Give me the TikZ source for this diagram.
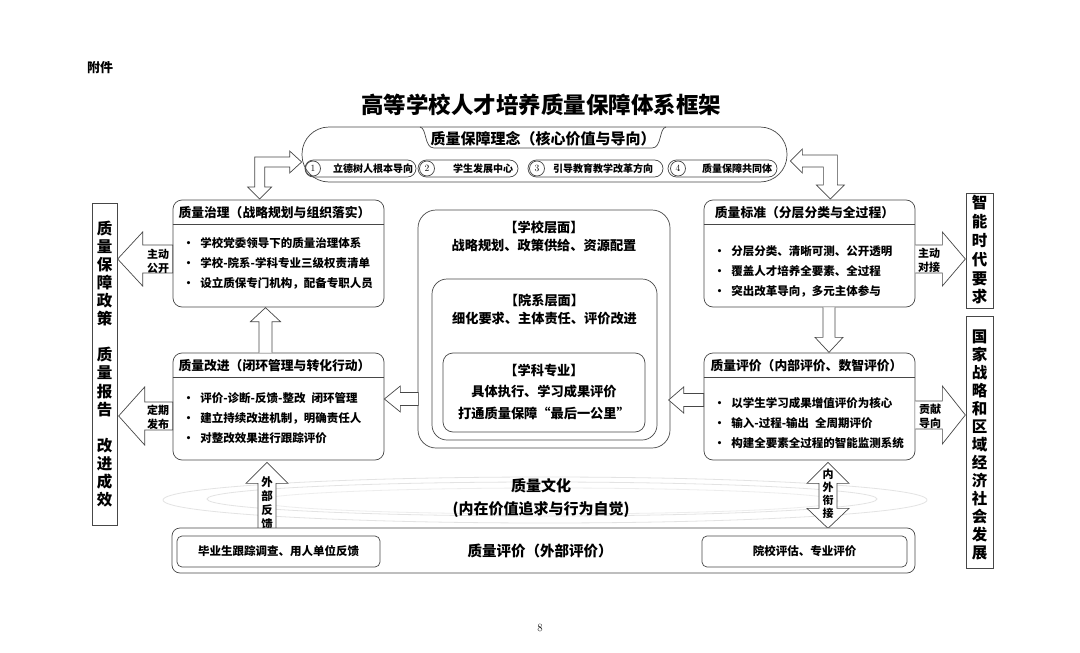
\documentclass[tikz,border=0pt]{standalone}
\usepackage{fontspec}
\newfontfamily\cjk{Noto Sans CJK SC}
\usetikzlibrary{calc,positioning}

\newcommand\fs[2]{\fontsize{#1}{#2}\selectfont}

\tikzset{
  outl/.style={draw=black!72, line width=0.7pt},
  box/.style={outl, rounded corners=9pt, fill=white, minimum width=211, minimum height=107, inner sep=0pt},
  head/.style={font=\cjk\bfseries\fs{12.8}{15}, inner sep=0pt},
  items/.style={font=\cjk\bfseries\fs{11.5}{20}, align=left, anchor=north west, inner sep=0pt},
  hollow/.style={outl, fill=white, line join=miter},
  tag/.style={font=\cjk\bfseries\fs{11}{14}, align=center, inner sep=0pt},
  column/.style={outl, minimum width=26, inner sep=0pt},
  coltext/.style={font=\cjk\bfseries\fs{15.5}{18.1}, align=center, inner sep=0pt},
  level/.style={outl, inner sep=0pt},
  lvtext/.style={font=\cjk\bfseries\fs{13.2}{17.5}, align=center, inner sep=0pt},
  pill/.style={outl, rounded corners=8.5pt, minimum height=17, inner sep=0pt},
  num/.style={outl, circle, minimum size=15, inner sep=0pt, font=\fs{9.5}{10}},
  pilltext/.style={font=\cjk\bfseries\fs{10}{12}, inner sep=0pt},
  ring/.style={draw=black!11, line width=0.8pt},
}

\begin{document}
\begin{tikzpicture}[x=1pt,y=-1pt]
\useasboundingbox (0,0) rectangle (1080,653);
\fill[white] (0,0) rectangle (1080,653);

\node[font=\cjk\bfseries\fs{13}{15}] (annex) at (100,68) {附件};
\node[font=\cjk\bfseries\fs{22.5}{26}] (title) at (541,105) {高等学校人才培养质量保障体系框架};

% core idea
\node[outl, rounded corners=27pt, minimum width=485, minimum height=55, inner sep=0pt] (concept) at (544.5,154.5) {};
\draw[outl] (420,127) .. controls (427,128) and (424,148) .. (434,148) -- (652,148)
  .. controls (662,148) and (659,128) .. (666,127);
\node[head, font=\cjk\bfseries\fs{15}{17}] (conceptT) at (543,139) {质量保障理念（核心价值与导向）};

\node[pill, minimum width=111] (p1) at (360.5,168.5) {};
\node[num] (n1) at (313,168.5) {1};
\node[pilltext] (p1T) at (373,168.5) {立德树人根本导向};
\node[pill, minimum width=100] (p2) at (468,168.5) {};
\node[num] (n2) at (427,168.5) {2};
\node[pilltext] (p2T) at (483,168.5) {学生发展中心};
\node[pill, minimum width=135] (p3) at (595.5,168.5) {};
\node[num] (n3) at (537,168.5) {3};
\node[pilltext] (p3T) at (603,168.5) {引导教育教学改革方向};
\node[pill, minimum width=109] (p4) at (722.5,168.5) {};
\node[num] (n4) at (678,168.5) {4};
\node[pilltext] (p4T) at (737,168.5) {质量保障共同体};

% four boxes
\node[box] (govern) at (278.5,253.5) {};
\draw[outl] ($(govern.north west)+(0,25)$) -- ($(govern.north east)+(0,25)$);
\node[head] (governT) at ($(govern.north)+(-4,13)$) {质量治理（战略规划与组织落实）};
\node[items] (governI) at ($(govern.north west)+(10,37.4)$) {•\hspace{6pt}学校党委领导下的质量治理体系\\•\hspace{6pt}学校-院系-学科专业三级权责清单\\•\hspace{6pt}设立质保专门机构，配备专职人员};

\node[box] (improve) at (278.5,406.5) {};
\draw[outl] ($(improve.north west)+(0,25)$) -- ($(improve.north east)+(0,25)$);
\node[head] (improveT) at ($(improve.north)+(-4,12.5)$) {质量改进（闭环管理与转化行动）};
\node[items] (improveI) at ($(improve.north west)+(10,39.4)$) {•\hspace{6pt}评价-诊断-反馈-整改\hspace{6pt}闭环管理\\•\hspace{6pt}建立持续改进机制，明确责任人\\•\hspace{6pt}对整改效果进行跟踪评价};

\node[box] (standard) at (809.5,253.5) {};
\draw[outl] ($(standard.north west)+(0,25)$) -- ($(standard.north east)+(0,25)$);
\node[head] (standardT) at ($(standard.north)+(-5,13)$) {质量标准（分层分类与全过程）};
\node[items] (standardI) at ($(standard.north west)+(10,45.4)$) {•\hspace{6pt}分层分类、清晰可测、公开透明\\•\hspace{6pt}覆盖人才培养全要素、全过程\\•\hspace{6pt}突出改革导向，多元主体参与};

\node[box] (ieval) at (809.5,406.5) {};
\draw[outl] ($(ieval.north west)+(0,25)$) -- ($(ieval.north east)+(0,25)$);
\node[head] (ievalT) at ($(ieval.north)+(-3,13)$) {质量评价（内部评价、数智评价）};
\node[items] (ievalI) at ($(ieval.north west)+(10,44.4)$) {•\hspace{6pt}以学生学习成果增值评价为核心\\•\hspace{6pt}输入-过程-输出\hspace{6pt}全周期评价\\•\hspace{6pt}构建全要素全过程的智能监测系统};

% levels in the middle
\node[level, rounded corners=18pt, minimum width=252, minimum height=238] (school) at (544,329) {};
\node[level, rounded corners=15pt, minimum width=225, minimum height=161] (dept) at (544.5,359.5) {};
\node[level, rounded corners=10pt, minimum width=202, minimum height=79] (major) at (544,392.5) {};
\node[lvtext] (schoolT) at (544,236.5) {【学校层面】\\战略规划、政策供给、资源配置};
\node[lvtext, font=\cjk\bfseries\fs{13.2}{18}] (deptT) at (544.5,309) {【院系层面】\\细化要求、主体责任、评价改进};
\node[lvtext, font=\cjk\bfseries\fs{13.2}{21.5}] (majorT) at (544,391.5) {【学科专业】\\具体执行、学习成果评价\\打通质量保障“最后一公里”};

% side columns
\node[column, minimum width=25, minimum height=322] (policy) at (104.5,364) {};
\node[coltext] (policyT) at (policy.center) {质\\量\\保\\障\\政\\策\\[18.1pt]质\\量\\报\\告\\[18.1pt]改\\进\\成\\效};
\node[column, minimum width=27, minimum height=115] (era) at (979.5,250.5) {};
\node[coltext, font=\cjk\bfseries\fs{15.5}{18.8}] (eraT) at (979.5,250) {智\\能\\时\\代\\要\\求};
\node[column, minimum width=27, minimum height=252] (nation) at (979.5,442) {};
\node[coltext, font=\cjk\bfseries\fs{15.5}{18}] (nationT) at (979.5,445) {国\\家\\战\\略\\和\\区\\域\\经\\济\\社\\会\\发\\展};

% bent arrows from the core idea
\draw[hollow] ($(concept.west)+(0,7.5)$) -- ++(-12,-11) -- ++(0,6) -- ++(-35,0) -- ++(0,30)
  -- ++(-7,0) -- ++(12,12) -- ++(12,-12) -- ++(-7,0) -- ++(0,-20) -- ++(25,0) -- ++(0,6) -- cycle;
\draw[hollow] ($(concept.east)+(3,6.5)$) -- ++(12,-12) -- ++(0,6) -- ++(35,0) -- ++(0,30)
  -- ++(7,0) -- ++(-14,14) -- ++(-14,-14) -- ++(7,0) -- ++(0,-18) -- ++(-21,0) -- ++(0,6) -- cycle;

% arrows between boxes
\draw[hollow] ($(improve.north)+(-19.5,0)$) -- ++(0,-31) -- ++(-8.5,0) -- ++(15,-14) -- ++(15,14)
  -- ++(-8.5,0) -- ++(0,31);
\draw[hollow] ($(standard.south)+(13.5,0)$) -- ++(0,30) -- ++(-8,0) -- ++(14,15) -- ++(14,-15)
  -- ++(-8,0) -- ++(0,-30);
\draw[hollow] ($(improve.east)+(0,-7.5)$) -- ++(16,-13) -- ++(0,6.5) -- ++(18,0) -- ++(0,13)
  -- ++(-18,0) -- ++(0,6.5) -- cycle;
\draw[hollow] ($(ieval.west)+(-35,-6.5)$) -- ++(15,-13) -- ++(0,6.5) -- ++(20,0) -- ++(0,13)
  -- ++(-20,0) -- ++(0,6.5) -- cycle;

% arrows to the side columns
\draw[hollow] ($(govern.west)+(-55,5.5)$) -- ++(25,-27) -- ++(0,13) -- ++(30,0) -- ++(0,28)
  -- ++(-30,0) -- ++(0,13) -- cycle;
\node[tag] (openT) at (158,261) {主动\\公开};
\draw[hollow] ($(improve.west)+(-54,9.5)$) -- ++(26,-29) -- ++(0,15) -- ++(28,0) -- ++(0,28)
  -- ++(-28,0) -- ++(0,15) -- cycle;
\node[tag] (issueT) at (158,417) {定期\\发布};
\draw[hollow] ($(standard.east)+(0,-8.5)$) -- ++(27,0) -- ++(0,-13) -- ++(23,27) -- ++(-23,27)
  -- ++(0,-13) -- ++(-27,0);
\node[tag] (linkT) at (929,260) {主动\\对接};
\draw[hollow] ($(ieval.east)+(0,-5.5)$) -- ++(27,0) -- ++(0,-15) -- ++(23,29) -- ++(-23,29)
  -- ++(0,-15) -- ++(-27,0);
\node[tag] (giveT) at (930,416) {贡献\\导向};

% quality culture
\draw[ring] (545,500) ellipse [x radius=382, y radius=23];
\draw[ring] (542,499) ellipse [x radius=335, y radius=17];
\draw[ring, draw=black!7] (548,501) ellipse [x radius=290, y radius=13];
\node[font=\cjk\bfseries\fs{15}{23}, align=center, inner sep=0pt] (culture) at (541,498.5) {质量文化\\(内在价值追求与行为自觉)};

\draw[hollow] ($(improve.south)+(-11.5,2)$) -- ++(21,21) -- ++(-12,0) -- ++(0,45) -- ++(-18,0)
  -- ++(0,-45) -- ++(-12,0) -- cycle;
\node[tag, font=\cjk\bfseries\fs{11.5}{14.2}] (backT) at (267,503) {外\\部\\反\\馈};
\draw[hollow] ($(ieval.south)+(18.5,2)$) -- ++(21,21) -- ++(-12,0) -- ++(0,25) -- ++(12,0)
  -- ++(-21,20) -- ++(-21,-20) -- ++(12,0) -- ++(0,-25) -- ++(-12,0) -- cycle;
\node[tag, font=\cjk\bfseries\fs{11}{12.8}] (joinT) at (828,494) {内\\外\\衔\\接};

% external evaluation
\node[outl, rounded corners=8pt, minimum width=743, minimum height=45, inner sep=0pt, fill=white] (eeval) at (543.5,550.5) {};
\node[outl, rounded corners=5pt, minimum width=203, minimum height=31, inner sep=0pt, font=\cjk\bfseries\fs{11.5}{13}] (grad) at (278.5,551.5) {毕业生跟踪调查、用人单位反馈};
\node[outl, rounded corners=5pt, minimum width=205, minimum height=31, inner sep=0pt, font=\cjk\bfseries\fs{11.5}{13}] (accred) at (804.5,551.5) {院校评估、专业评价};
\node[font=\cjk\bfseries\fs{14.5}{16}, inner sep=0pt] (eevalT) at (540,551) {质量评价（外部评价）};

\node[font=\fs{11}{13}] (page) at (540,628) {8};
\end{tikzpicture}
\end{document}
